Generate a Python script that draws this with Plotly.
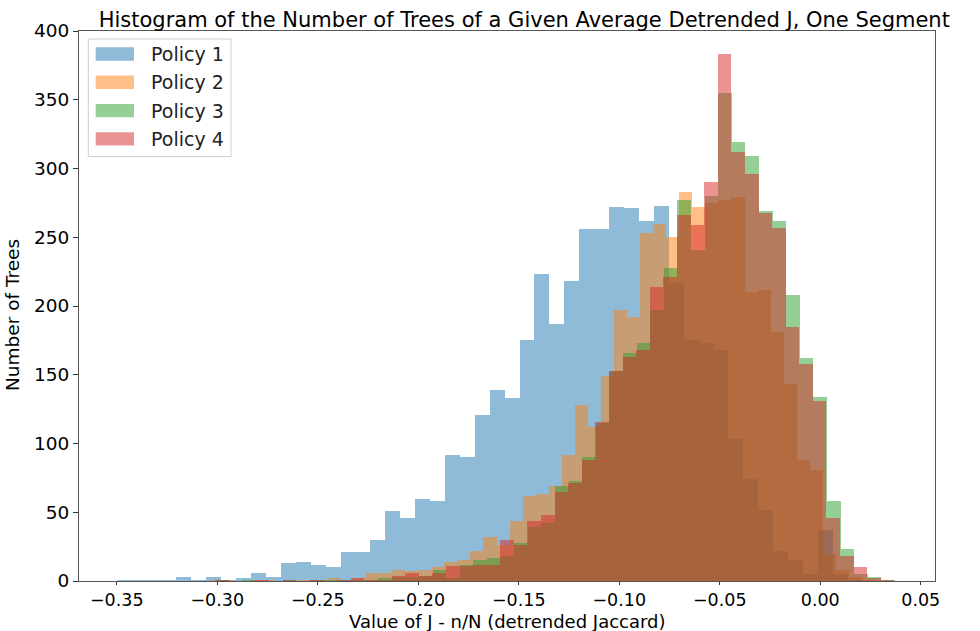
import numpy as np
import plotly.graph_objects as go

# ---- data ----
policy_names = ["Policy 1", "Policy 2", "Policy 3", "Policy 4"]
policy_colors = ["rgba(31,119,180,0.5)", "rgba(255,127,14,0.5)",
                 "rgba(44,160,44,0.5)", "rgba(214,39,40,0.5)"]

# bin start and bin width (value units) for each policy
p1_start, p1_width = -0.3500, 0.007423
p2_start, p2_width = -0.30388, 0.006493
p3_start, p3_width = -0.30114, 0.006766
p4_start, p4_width = -0.30114, 0.006761

p1_counts = [1, 1, 1, 1, 3, 1, 3, 1, 2, 6,
             3, 13, 14, 12, 10, 21, 21, 30, 51, 46,
             60, 58, 92, 90, 121, 139, 133, 175, 223, 187,
             218, 256, 256, 272, 271, 262, 273, 217, 175, 173,
             168, 103, 74, 52, 22, 15, 5, 37, 5, 1]

p2_counts = [1, 1, 0, 1, 1, 0, 1, 1, 1, 2,
             1, 2, 6, 6, 8, 7, 8, 10, 14, 15,
             22, 32, 26, 44, 62, 63, 69, 92, 128, 112,
             149, 197, 192, 253, 260, 250, 283, 272, 275, 277,
             279, 210, 212, 181, 143, 88, 81, 20, 8, 3, 1]

p3_counts = [1, 0, 1, 0, 0, 1, 0, 1, 1, 1,
             1, 1, 2, 3, 3, 4, 8, 2, 12, 15,
             17, 18, 28, 39, 42, 69, 73, 90, 115, 153,
             166, 173, 197, 228, 277, 241, 280, 355, 319, 309,
             269, 262, 208, 162, 134, 58, 23, 5, 3, 1]

p4_counts = [1, 0, 0, 1, 0, 1, 0, 1, 0, 1,
             2, 1, 1, 4, 6, 4, 6, 11, 11, 12,
             12, 30, 26, 44, 48, 65, 71, 88, 116, 153,
             163, 168, 214, 221, 266, 259, 290, 383, 312, 296,
             268, 257, 185, 158, 131, 46, 18, 10, 2, 1]

x_ticks = [-0.35, -0.30, -0.25, -0.20, -0.15, -0.10, -0.05, 0.00, 0.05]
y_ticks = [0, 50, 100, 150, 200, 250, 300, 350, 400]

title_text = "Histogram of the Number of Trees of a Given Average Detrended J, One Segment"
x_title = "Value of J - n/N (detrended Jaccard)"
y_title = "Number of Trees"

series = [
    (p1_start, p1_width, p1_counts),
    (p2_start, p2_width, p2_counts),
    (p3_start, p3_width, p3_counts),
    (p4_start, p4_width, p4_counts),
]

W, H = 980, 631
ML, MR, MT, MB = 79, 45, 31, 50
PW, PH = W - ML - MR, H - MT - MB


def px_x(px):  # pixel x -> paper x
    return (px - ML) / PW


def px_y(py):  # pixel y -> paper y
    return (H - MB - py) / PH


fig = go.Figure()
for name, color, (start, width, counts) in zip(policy_names, policy_colors, series):
    lefts = start + width * np.arange(len(counts))
    fig.add_trace(go.Bar(
        x=lefts, y=counts, width=width, offset=0,
        name=name, marker=dict(color=color, line=dict(width=0)),
        showlegend=False,
    ))

font_family = "DejaVu Sans"

# legend drawn as a matplotlib-style box with wide patches
shapes = [dict(type="rect", xref="paper", yref="paper",
               x0=px_x(88.3), x1=px_x(231), y0=px_y(156.7), y1=px_y(39),
               fillcolor="rgba(255,255,255,0.8)",
               line=dict(color="#cccccc", width=1), layer="above")]
annotations = []
for i, (name, color) in enumerate(zip(policy_names, policy_colors)):
    cy = 54 + 28.3 * i
    shapes.append(dict(type="rect", xref="paper", yref="paper",
                       x0=px_x(95.7), x1=px_x(134), y0=px_y(cy + 6.7), y1=px_y(cy - 6.7),
                       fillcolor=color, line=dict(width=0), layer="above"))
    annotations.append(dict(text=name, xref="paper", yref="paper",
                            x=px_x(149), y=px_y(cy), xanchor="left", yanchor="middle",
                            showarrow=False,
                            font=dict(family=font_family, size=19, color="#222")))

# axis titles
annotations.append(dict(text=x_title, xref="paper", yref="paper",
                        x=px_x(507), y=px_y(633), xanchor="center", yanchor="bottom",
                        borderpad=0,
                        showarrow=False, font=dict(family=font_family, size=18, color="black")))
annotations.append(dict(text=y_title, xref="paper", yref="paper",
                        x=px_x(12), y=px_y(315), xanchor="center", yanchor="middle",
                        textangle=-90, showarrow=False,
                        font=dict(family=font_family, size=18.5, color="black")))

fig.update_layout(
    width=W, height=H,
    barmode="overlay", bargap=0,
    paper_bgcolor="white", plot_bgcolor="white",
    margin=dict(l=ML, r=MR, t=MT, b=MB, autoexpand=False),
    font=dict(family=font_family, size=18, color="black"),
    showlegend=False,
    title=dict(text=title_text,
               x=0.535, xanchor="center", yref="container", y=1 - 27 / H, yanchor="bottom",
               automargin=False,
               font=dict(family=font_family, size=21, color="black")),
    shapes=shapes,
    annotations=annotations,
    xaxis=dict(range=[-0.36876, 0.0571], tickvals=x_ticks, tickformat=".2f",
               showgrid=False, zeroline=False, ticks="outside", ticklen=3,
               tickfont=dict(size=17.5),
               tickcolor="#333", showline=True, linecolor="#555", linewidth=1,
               mirror=True, automargin=False),
    yaxis=dict(range=[0, 400], tickvals=y_ticks,
               showgrid=False, zeroline=False, ticks="outside", ticklen=5,
               tickfont=dict(size=18.5),
               tickcolor="#333", showline=True, linecolor="#555", linewidth=1,
               mirror=True, automargin=False),
)

fig.write_html("out.html")
